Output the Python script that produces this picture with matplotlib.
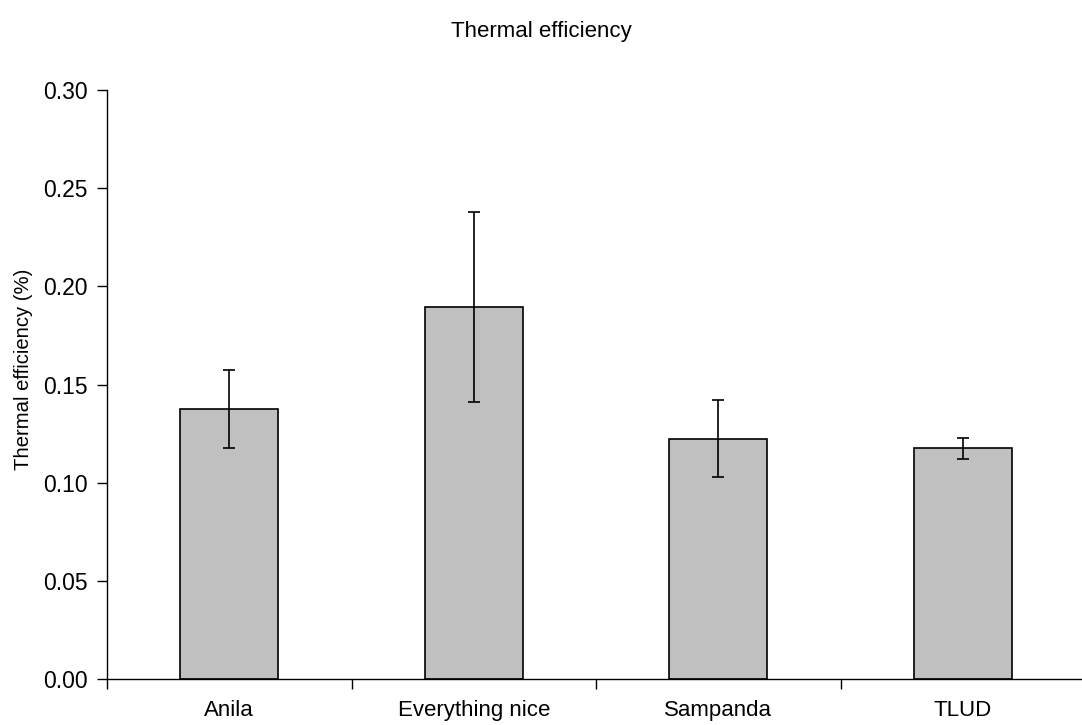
import matplotlib
matplotlib.use("Agg")
import matplotlib.pyplot as plt
import numpy as np

plt.rcParams['font.family'] = ['Liberation Sans', 'DejaVu Sans']

categories = ["Anila", "Everything nice", "Sampanda", "TLUD"]
values = [0.1375, 0.1895, 0.1225, 0.1175]
errors = [0.0200, 0.0485, 0.0195, 0.0053]
yticks = [0.00, 0.05, 0.10, 0.15, 0.20, 0.25, 0.30]

fig = plt.figure(figsize=(10.82, 7.25), dpi=100)
ax = fig.add_axes([0.0989, 0.0634, 0.9040, 0.8125])

x = np.arange(len(categories))
ax.bar(x, values, width=0.4, color="#c0c0c0", edgecolor="black", linewidth=1.2, zorder=2)
ax.errorbar(x, values, yerr=errors, fmt="none", ecolor="black", elinewidth=1.2,
            capsize=4.5, capthick=1.2, zorder=3)

ax.set_xlim(-0.5, 3.5)
ax.set_ylim(0, 0.30)
ax.set_yticks(yticks)
ax.set_yticklabels([f"{t:.2f}" for t in yticks], fontsize=16.5)
ax.set_xticks(x)
ax.set_xticklabels(categories, fontsize=16)
ax.tick_params(axis='x', length=0, pad=15)
ax.set_xticks(np.arange(-0.5, 4.0, 1.0), minor=True)
ax.tick_params(axis='x', which='minor', length=7, width=1, direction='out')
ax.tick_params(axis='y', length=7, width=1, direction='out', pad=7)

for s in ['top', 'right']:
    ax.spines[s].set_visible(False)
ax.spines['left'].set_linewidth(1)
ax.spines['bottom'].set_linewidth(1)

fig.text(0.0213, 0.491, "Thermal efficiency (%)", rotation=90, ha="center", va="center", fontsize=14.6)
fig.text(0.5, 0.957, "Thermal efficiency", ha="center", va="center", fontsize=16)

fig.savefig("out.png", dpi=100)
